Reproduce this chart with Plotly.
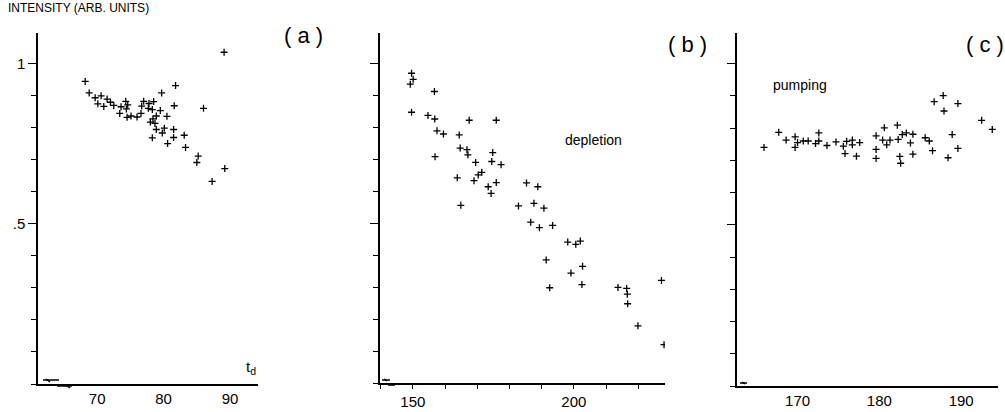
import plotly.graph_objects as go

# ---- data ----
a_x = [68.2, 68.8, 69.7, 70.6, 70.1, 71.0, 71.5, 72.0, 72.5, 73.4, 73.6, 74.3, 74.6, 74.4, 74.5, 75.1,
       76.0, 76.6, 76.7, 77.0, 77.8, 78.5, 77.7, 78.3, 79.5, 78.9, 78.4, 78.0, 78.7, 79.7, 81.8, 81.6,
       80.5, 78.9, 80.1, 79.8, 78.3, 81.5, 81.5, 80.6, 83.1, 83.3, 85.2, 85.0, 87.3, 86.0, 89.1, 89.2]
a_y = [0.944, 0.908, 0.893, 0.899, 0.874, 0.866, 0.889, 0.879, 0.869, 0.844, 0.865, 0.882, 0.871, 0.858,
       0.832, 0.836, 0.833, 0.844, 0.867, 0.882, 0.875, 0.881, 0.860, 0.856, 0.853, 0.836, 0.827, 0.817,
       0.813, 0.908, 0.931, 0.868, 0.835, 0.794, 0.798, 0.783, 0.768, 0.794, 0.769, 0.750, 0.776, 0.738,
       0.711, 0.691, 0.632, 0.860, 1.035, 0.672]

b_x = [149.6, 150.1, 149.2, 156.7, 149.6, 154.7, 156.8, 167.5, 175.9, 157.5, 159.5, 164.4, 156.9, 164.7,
       166.8, 167.1, 174.8, 169.5, 174.5, 177.4, 171.4, 170.3, 163.8, 169.0, 175.9, 173.4, 174.3, 185.3,
       188.8, 164.9, 182.8, 187.6, 190.7, 186.6, 189.3, 193.4, 198.1, 200.6, 202.0, 191.4, 202.7, 199.1,
       192.5, 202.5, 213.7, 216.4, 216.6, 216.7, 227.2, 219.9, 228.0]
b_y = [0.969, 0.950, 0.935, 0.912, 0.847, 0.837, 0.826, 0.822, 0.822, 0.789, 0.779, 0.776, 0.708, 0.735,
       0.730, 0.714, 0.721, 0.690, 0.693, 0.683, 0.659, 0.651, 0.642, 0.633, 0.627, 0.614, 0.593, 0.626,
       0.614, 0.556, 0.554, 0.562, 0.547, 0.503, 0.486, 0.493, 0.441, 0.434, 0.444, 0.385, 0.365, 0.344,
       0.298, 0.308, 0.299, 0.296, 0.278, 0.248, 0.321, 0.179, 0.120]

c_x = [165.9, 167.7, 168.6, 169.7, 170.0, 169.7, 170.7, 171.3, 172.2, 172.6, 172.6, 173.6, 174.7, 175.6,
       176.0, 175.8, 176.7, 176.7, 177.2, 177.6, 179.6, 179.6, 179.6, 180.4, 180.6, 180.9, 181.3, 182.2,
       182.3, 182.8, 183.3, 182.5, 182.6, 183.8, 184.1, 184.1, 185.6, 186.1, 186.5, 186.7, 187.8, 187.9,
       189.6, 188.9, 188.4, 189.6, 192.5, 193.8]
c_y = [0.740, 0.787, 0.763, 0.773, 0.755, 0.740, 0.760, 0.760, 0.752, 0.785, 0.760, 0.746, 0.757, 0.744,
       0.759, 0.721, 0.763, 0.748, 0.713, 0.755, 0.776, 0.734, 0.706, 0.763, 0.801, 0.748, 0.763, 0.809,
       0.765, 0.780, 0.785, 0.712, 0.691, 0.754, 0.781, 0.719, 0.770, 0.760, 0.730, 0.882, 0.901, 0.853,
       0.876, 0.780, 0.708, 0.737, 0.824, 0.796]

a_ticks = [70, 80, 90]
b_ticks = [150, 200]
c_ticks = [170, 180, 190]
y_tickvals = [0.5, 1.0]
y_ticktext = [".5", "1"]

W, H = 1005, 412
def px(x): return x / W
def py(y): return 1 - y / H

FONT = "Liberation Sans"
fig = go.Figure()
marker = dict(symbol="cross-thin", size=5, line=dict(width=1.3, color="black"), color="black")
fig.add_trace(go.Scatter(x=a_x, y=a_y, mode="markers", marker=marker, xaxis="x", yaxis="y"))
fig.add_trace(go.Scatter(x=b_x, y=b_y, mode="markers", marker=marker, xaxis="x2", yaxis="y2"))
fig.add_trace(go.Scatter(x=c_x, y=c_y, mode="markers", marker=marker, xaxis="x3", yaxis="y3"))

common_x = dict(showgrid=False, zeroline=False, showline=True, linecolor="black", linewidth=1.5,
                tickfont=dict(family=FONT, size=15, color="black"), ticks="outside", ticklen=0,
                tickcolor="black")
common_y = dict(showgrid=False, zeroline=False, showline=True, linecolor="black", linewidth=1.5,
                range=[0, 1.095], tickvals=y_tickvals, ticktext=y_ticktext, ticks="outside",
                ticklen=8, tickwidth=1.2, tickcolor="black",
                tickfont=dict(family=FONT, size=15, color="black"),
                minor=dict(dtick=0.1, tick0=0, ticks="outside", ticklen=5, tickcolor="black", tickwidth=1.2))

fig.update_layout(
    width=W, height=H, margin=dict(l=0, r=0, t=0, b=0),
    paper_bgcolor="white", plot_bgcolor="white", showlegend=False,
    xaxis=dict(common_x, domain=[px(38), px(258)], range=[61.1, 94.2], anchor="y",
               tickvals=a_ticks),
    yaxis=dict(common_y, domain=[py(384), py(33)], anchor="x", showticklabels=True),
    xaxis2=dict(common_x, domain=[px(380), px(665)], range=[139.8, 228.3], anchor="y2",
                tickvals=b_ticks, ticklen=4, tickwidth=1.2,
                minor=dict(dtick=10, tick0=150, ticks="outside", ticklen=4, tickcolor="black", tickwidth=1.2)),
    yaxis2=dict(common_y, domain=[py(383), py(33)], anchor="x2", showticklabels=False),
    xaxis3=dict(common_x, domain=[px(737), px(998)], range=[162.6, 194.5], anchor="y3",
                tickvals=c_ticks),
    yaxis3=dict(common_y, domain=[py(386), py(33)], anchor="x3", showticklabels=False),
)

def text(x, y, s, size, anchor="center"):
    fig.add_annotation(x=px(x), y=py(y), xref="paper", yref="paper", text=s, showarrow=False,
                       xanchor=anchor, yanchor="middle",
                       font=dict(family=FONT, size=size, color="black"))

text(6, 8, "INTENSITY (ARB. UNITS)", 12, "left")
text(303, 36, "( a )", 22)
text(687, 45, "( b )", 22)
text(985, 45, "( c )", 22)
text(593, 140, "depletion", 14)
text(800, 85, "pumping", 14)
text(251, 367, "t<sub>d</sub>", 15)

# axis-break marks
def seg(x0, y0, x1, y1):
    fig.add_shape(type="line", xref="paper", yref="paper", x0=px(x0), y0=py(y0), x1=px(x1), y1=py(y1),
                  line=dict(color="black", width=1.5))
seg(43, 380, 59, 380); seg(57, 386, 72, 386); seg(46, 379, 50, 382); seg(66, 385, 70, 388)
seg(382, 380, 390, 380); seg(388, 385, 395, 385); seg(384, 379, 387, 381)
seg(740, 383, 747, 383); seg(748, 387, 755, 387); seg(742, 382, 745, 384)

fig.write_html("out.html", config={"displayModeBar": False},
               post_script="document.body.style.margin='0';document.body.style.overflow='hidden';")
